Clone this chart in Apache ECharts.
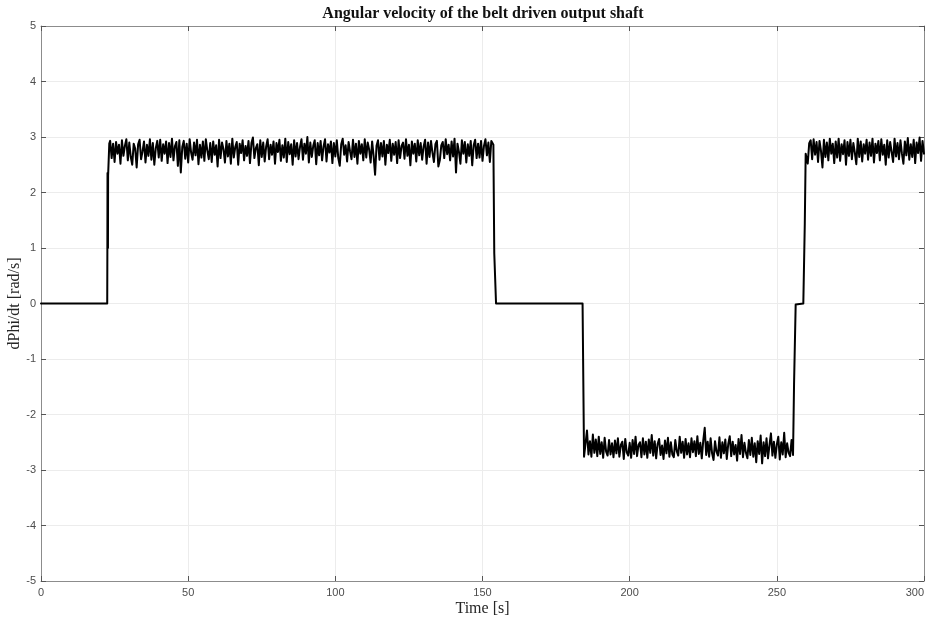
<!DOCTYPE html>
<html>
<head>
<meta charset="utf-8">
<script src="https://cdn.jsdelivr.net/npm/echarts@6/dist/echarts.min.js"></script>
<style>html,body{margin:0;padding:0;background:#fff}#c{width:928px;height:620px}</style>
</head>
<body>
<div id="c"></div>
<script>
var titleText = 'Angular velocity of the belt driven output shaft';
var xName = 'Time [s]';
var yName = 'dPhi/dt [rad/s]';
var xTicks = [0, 50, 100, 150, 200, 250, 300];
var yTicks = [-5, -4, -3, -2, -1, 0, 1, 2, 3, 4, 5];

// step / transition points [time, value]
var startPts = [[0, 0], [22.5, 0], [22.55, 0.97], [22.6, 2.35], [22.75, 1.0], [22.8, 2.3], [23.2, 2.88]];
var highA_t0 = 23.5, sampleStep = 0.5;
var highA = [
2.93,2.62,2.88,2.55,2.91,2.70,2.86,2.52,2.94,2.66,
2.84,2.96,2.58,2.90,2.64,2.50,2.88,2.79,2.45,2.87,
2.95,2.60,2.74,2.92,2.54,2.86,2.66,2.96,2.59,2.89,
2.50,2.80,2.93,2.63,2.95,2.57,2.87,2.70,2.92,2.53,
2.89,2.64,2.97,2.58,2.83,2.91,2.48,2.94,2.36,2.82,
2.93,2.61,2.88,2.54,2.96,2.72,2.59,2.90,2.67,2.95,
2.51,2.86,2.63,2.92,2.57,2.96,2.76,2.60,2.89,2.55,
2.92,2.68,2.85,2.47,2.95,2.62,2.90,2.78,2.54,2.93,
2.65,2.88,2.52,2.97,2.63,2.82,2.91,2.50,2.88,2.71,
2.94,2.58,2.84,2.66,2.93,2.53,2.89,2.99,2.62,2.80,
2.87,2.49,2.94,2.64,2.90,2.56,2.83,2.96,2.60,2.86,
2.68,2.92,2.52,2.89,2.73,2.95,2.57,2.85,2.63,2.97,
2.55,2.91,2.69,2.87,2.50,2.94,2.65,2.89,2.60,2.82,
2.96,2.59,2.88,2.70,3.00,2.54,2.90,2.64,2.84,2.94,
2.51,2.89,2.67,2.93,2.58,2.83,2.96,2.56,2.87,2.72,
2.92,2.53,2.89,2.65,2.94,2.62,2.48,2.87,2.97,2.68,
2.85,2.56,2.91,2.74,2.60,2.95,2.64,2.88,2.52,2.93,
2.70,2.87,2.58,2.96,2.63,2.90,2.77,2.54,2.92,2.66,
2.32,2.84,2.94,2.59,2.89,2.65,2.93,2.50,2.86,2.71,
2.95,2.57,2.88,2.68,2.91,2.53,2.94,2.62,2.84,2.90,
2.61,2.96,2.66,2.86,2.49,2.92,2.70,2.88,2.56,2.94,
2.67,2.89,2.59,2.83,2.95,2.52,2.90,2.64,2.93,2.72,
2.55,2.87,2.93,2.47,2.58,2.85,2.91,2.62,2.96,2.69,
2.86,2.58,2.92,2.65,2.97,2.36,2.88,2.73,2.52,2.94,
2.70,2.91,2.54,2.87,2.66,2.93,2.49,2.85,2.95,2.62,
2.88,2.63,2.93,2.57,2.84,2.96,2.67,2.90,2.55,2.93,
2.92];
var fallPts = [[153.7, 2.86], [154.0, 0.9], [154.6, 0], [184.0, 0], [184.5, -2.76]];
var lowB_t0 = 185.0;
var lowB = [
-2.78,-2.29,-2.72,-2.48,-2.76,-2.36,-2.69,-2.45,-2.75,-2.40,
-2.71,-2.50,-2.78,-2.42,-2.67,-2.74,-2.46,-2.72,-2.52,-2.77,
-2.47,-2.70,-2.43,-2.76,-2.55,-2.49,-2.80,-2.44,-2.68,-2.74,
-2.51,-2.78,-2.46,-2.71,-2.40,-2.75,-2.55,-2.50,-2.77,-2.43,
-2.72,-2.49,-2.78,-2.45,-2.69,-2.37,-2.74,-2.48,-2.79,-2.53,
-2.44,-2.73,-2.56,-2.80,-2.47,-2.70,-2.42,-2.76,-2.50,-2.72,
-2.77,-2.46,-2.66,-2.74,-2.40,-2.69,-2.49,-2.78,-2.44,-2.72,
-2.52,-2.77,-2.43,-2.68,-2.48,-2.75,-2.39,-2.71,-2.51,-2.79,
-2.47,-2.24,-2.73,-2.49,-2.76,-2.43,-2.70,-2.82,-2.48,-2.67,
-2.74,-2.41,-2.78,-2.50,-2.70,-2.45,-2.80,-2.53,-2.39,-2.75,
-2.49,-2.72,-2.55,-2.83,-2.44,-2.71,-2.37,-2.77,-2.51,-2.69,
-2.79,-2.46,-2.73,-2.42,-2.76,-2.52,-2.86,-2.48,-2.71,-2.38,
-2.88,-2.50,-2.75,-2.43,-2.79,-2.55,-2.34,-2.74,-2.49,-2.78,
-2.54,-2.40,-2.81,-2.50,-2.72,-2.33,-2.77,-2.52,-2.69,-2.75,
-2.46,-2.73];
var risePts = [[255.7, -2.72], [255.85, -1.45], [256.4, -0.02], [256.6, 0], [259.0, 0], [259.5, 1.44], [259.8, 2.7]];
var highC_t0 = 260.0;
var highC = [
2.70,2.52,2.89,2.94,2.60,2.96,2.68,2.91,2.55,2.93,
2.75,2.45,2.95,2.64,2.90,2.58,2.97,2.70,2.88,2.53,
2.92,2.63,2.97,2.57,2.87,2.69,2.94,2.50,2.91,2.66,
2.95,2.60,2.89,2.72,2.51,2.97,2.64,2.92,2.56,2.87,
2.70,2.95,2.59,2.90,2.66,2.97,2.54,2.88,2.71,2.93,
2.58,2.96,2.68,2.86,2.50,2.94,2.63,2.91,2.73,2.55,
2.97,2.65,2.89,2.60,2.94,2.70,2.52,2.92,2.67,2.98,
2.59,2.87,2.64,2.95,2.53,2.90,2.71,2.99,2.57,2.93,
2.70];

function seg(t0, vals) {
  return vals.map(function (v, i) { return [+(t0 + i * sampleStep).toFixed(2), v]; });
}
var data = [].concat(startPts, seg(highA_t0, highA), fallPts, seg(lowB_t0, lowB), risePts, seg(highC_t0, highC));

var chart = echarts.init(document.getElementById('c'), null, { renderer: 'canvas' });
var lineCol = '#8c8c8c', tickCol = '#555555', gridCol = '#ececec';
var labelFont = { color: '#4d4d4d', fontFamily: '"Liberation Sans Narrow", "Liberation Sans", sans-serif', fontSize: 11 };
chart.setOption({
  animation: false,
  backgroundColor: '#ffffff',
  title: {
    text: titleText, left: 478, top: 1, textAlign: 'center',
    textStyle: { fontFamily: '"Liberation Serif", "DejaVu Serif", serif', fontWeight: 'bold', fontSize: 16, color: '#111' }
  },
  grid: { left: 41, right: 4, top: 26, bottom: 39, containLabel: false, outerBoundsMode: 'none' },
  xAxis: [{
    type: 'value', min: xTicks[0], max: xTicks[xTicks.length - 1], interval: 50, position: 'bottom',
    name: xName, nameLocation: 'middle', nameGap: 20, nameMoveOverlap: false,
    nameTextStyle: { fontFamily: '"Liberation Serif", serif', fontSize: 16, color: '#262626' },
    axisLine: { show: true, onZero: false, lineStyle: { color: lineCol, width: 1 } },
    axisTick: { show: true, inside: true, length: 5, lineStyle: { color: tickCol } },
    axisLabel: Object.assign({ margin: 6, alignMaxLabel: 'right' }, labelFont),
    splitLine: { show: true, lineStyle: { color: gridCol, width: 1 } }
  }, {
    type: 'value', min: xTicks[0], max: xTicks[xTicks.length - 1], interval: 50, position: 'top',
    axisLine: { show: true, onZero: false, lineStyle: { color: lineCol, width: 1 } },
    axisTick: { show: true, inside: true, length: 5, lineStyle: { color: tickCol } },
    axisLabel: { show: false }, splitLine: { show: false }
  }],
  yAxis: [{
    type: 'value', min: yTicks[0], max: yTicks[yTicks.length - 1], interval: 1, position: 'left',
    name: yName, nameLocation: 'middle', nameGap: 18, nameRotate: 90, nameMoveOverlap: false,
    nameTextStyle: { fontFamily: '"Liberation Serif", serif', fontSize: 16, color: '#262626' },
    axisLine: { show: true, onZero: false, lineStyle: { color: lineCol, width: 1 } },
    axisTick: { show: true, inside: true, length: 5, lineStyle: { color: tickCol } },
    axisLabel: Object.assign({ margin: 5 }, labelFont),
    splitLine: { show: true, lineStyle: { color: gridCol, width: 1 } }
  }, {
    type: 'value', min: yTicks[0], max: yTicks[yTicks.length - 1], interval: 1, position: 'right',
    axisLine: { show: true, onZero: false, lineStyle: { color: lineCol, width: 1 } },
    axisTick: { show: true, inside: true, length: 5, lineStyle: { color: tickCol } },
    axisLabel: { show: false }, splitLine: { show: false }
  }],
  series: [{
    type: 'line', xAxisIndex: 0, yAxisIndex: 0, data: data,
    showSymbol: false, symbol: 'none', sampling: false, smooth: false,
    lineStyle: { color: '#000000', width: 2, join: 'round', cap: 'round' },
    silent: true
  }]
});
</script>
</body>
</html>
